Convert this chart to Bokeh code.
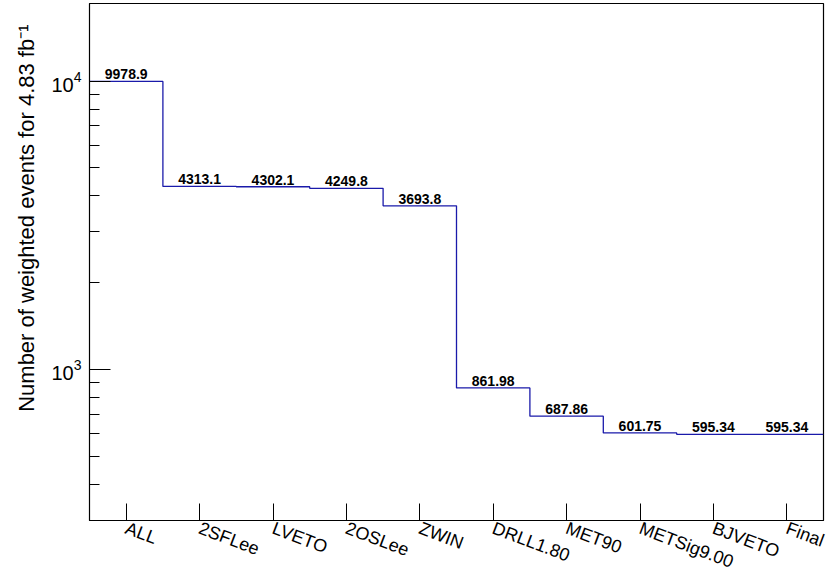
from bokeh.plotting import figure
from bokeh.models import (Range1d, FixedTicker, LogTickFormatter, Title,
                          ColumnDataSource)
from bokeh.core.properties import value
from bokeh.embed import file_html
from bokeh.resources import INLINE

# Cut-flow: selection steps and weighted event yields after each step
cuts = ["ALL", "2SFLee", "LVETO", "2OSLee", "ZWIN", "DRLL1.80",
        "MET90", "METSig9.00", "BJVETO", "Final"]
yields = [9978.9, 4313.1, 4302.1, 4249.8, 3693.8, 861.98,
          687.86, 601.75, 595.34, 595.34]

y_major = [1e3, 1e4]
y_minor = [300, 400, 500, 600, 700, 800, 900,
           2000, 3000, 4000, 5000, 6000, 7000, 8000, 9000]

y_title = "Number of weighted events for 4.83 fb\u207b\u00b9"

FONT = "Liberation Sans"

n = len(cuts)
centers = [i + 0.5 for i in range(n)]

# histogram outline: one flat segment per bin, joined by vertical steps
step_x, step_y = [], []
for i, v in enumerate(yields):
    step_x += [i, i + 1]
    step_y += [v, v]

p = figure(width=831, height=584, output_backend="svg", toolbar_location=None,
           y_axis_type="log",
           x_range=Range1d(0, n), y_range=Range1d(299, 18600),
           min_border_left=89, min_border_right=8,
           min_border_top=3, min_border_bottom=63)
p.background_fill_color = "white"
p.border_fill_color = "white"
p.outline_line_color = "black"
p.outline_line_width = 1.2
p.grid.visible = False

p.line(step_x, step_y, line_color="#1a1aaa", line_width=1.3)

src = ColumnDataSource(dict(x=centers, y=yields,
                            t=[f"{v:.5g}" for v in yields]))
p.text("x", "y", text="t", source=src, text_align="center",
       text_baseline="bottom", y_offset=-2,
       text_font=value(FONT), text_font_style="bold",
       text_font_size="14px", text_color="black")

# x axis: one tick per cut, slanted labels
xa = p.xaxis[0]
xa.ticker = FixedTicker(ticks=centers, minor_ticks=[])
xa.major_label_overrides = {c: lab for c, lab in zip(centers, cuts)}
xa.major_label_orientation = -0.36
xa.major_label_text_font = FONT
xa.major_label_text_font_size = "18px"
xa.major_label_text_color = "black"
xa.major_label_standoff = 7
xa.major_tick_in = 17
xa.major_tick_out = 0
xa.minor_tick_in = 0
xa.minor_tick_out = 0
xa.axis_line_color = "black"
xa.major_tick_line_color = "black"

# y axis: logarithmic, ticks drawn inside the frame
ya = p.yaxis[0]
ya.ticker = FixedTicker(ticks=y_major, minor_ticks=y_minor)
ya.formatter = LogTickFormatter()
ya.major_label_text_font = FONT
ya.major_label_text_font_size = "20px"
ya.major_label_text_color = "black"
ya.major_label_standoff = 8
ya.major_tick_in = 21
ya.major_tick_out = 0
ya.minor_tick_in = 10
ya.minor_tick_out = 0
ya.axis_line_color = "black"
ya.major_tick_line_color = "black"
ya.minor_tick_line_color = "black"

# vertical axis title, flush with the top of the frame
p.add_layout(Title(text=y_title, align="right", offset=21, standoff=19,
                   text_font=FONT, text_font_size="22px",
                   text_font_style="normal", text_color="black"), "left")

open("out.html", "w").write(file_html(p, INLINE))
